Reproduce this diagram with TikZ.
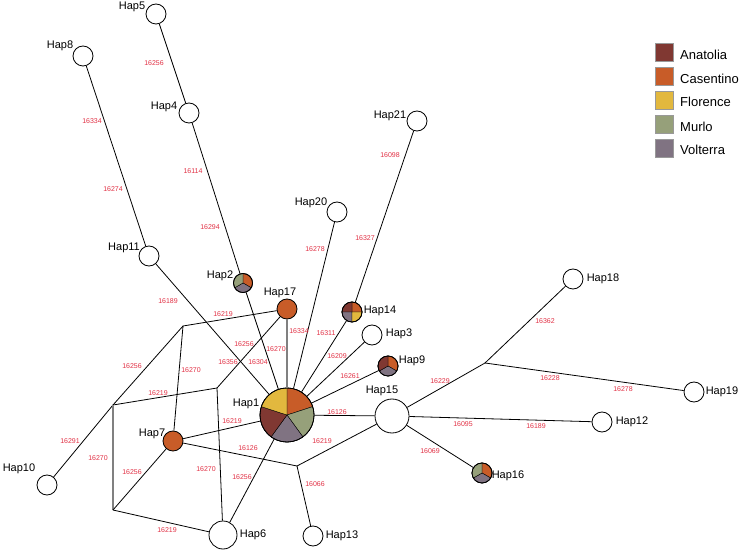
\documentclass[tikz,border=0pt]{standalone}
\usepackage{fontspec}
\setmainfont{Liberation Sans}
\definecolor{Anatolia}{RGB}{128,56,50}
\definecolor{Casentino}{RGB}{200,92,40}
\definecolor{Florence}{RGB}{226,184,62}
\definecolor{Murlo}{RGB}{150,160,122}
\definecolor{Volterra}{RGB}{128,115,130}
\definecolor{mutred}{RGB}{226,50,70}
\newcommand\myslice[5]{\filldraw[fill=#5,slicestyle] (#1.center) -- ++(#3:#2) arc[start angle=#3,end angle=#4,radius=#2] -- cycle;}
\begin{document}
\begin{tikzpicture}[x=1pt,y=-1pt,
 hap/.style={circle,draw=black,line width=0.8pt,inner sep=0pt,minimum size=20pt,fill=white},
 piehap/.style={circle,draw=black,line width=0.8pt,inner sep=0pt,minimum size=20pt},
 lbl/.style={font=\fontsize{11}{13}\selectfont,inner sep=0pt},
 mut/.style={font=\fontsize{7}{8}\selectfont,text=mutred,inner sep=0pt},
 link/.style={draw=black,line width=0.8pt},
 glink/.style={draw=gray,line width=1.6pt},
 slicestyle/.style={draw=black,line width=0.4pt},
 legbox/.style={draw=black!40,line width=0.3pt,minimum size=18pt,inner sep=0pt},
 legtxt/.style={font=\fontsize{13}{15}\selectfont,inner sep=0pt,anchor=west}]
\useasboundingbox[fill=white] (0,0) rectangle (750,553);

% junction points
\coordinate (A) at (183,326);
\coordinate (B) at (113,405);
\coordinate (C) at (217,388);
\coordinate (D) at (113,510);
\coordinate (E) at (297,466);
\coordinate (J) at (485,363);

% haplotype nodes
\node[hap] (Hap5) at (156,14) {};
\node[hap] (Hap8) at (83,56) {};
\node[hap] (Hap4) at (189,113) {};
\node[hap] (Hap11) at (149,256) {};
\node[piehap,minimum size=19pt] (Hap2) at (243,283) {};
\node[hap,fill=Casentino] (Hap17) at (287,309) {};
\node[hap] (Hap20) at (337,212) {};
\node[hap] (Hap21) at (417,121) {};
\node[piehap] (Hap14) at (352,312) {};
\node[hap] (Hap3) at (372,335) {};
\node[piehap] (Hap9) at (388,366) {};
\node[hap,minimum size=34pt] (Hap15) at (392,416) {};
\node[piehap,minimum size=54pt] (Hap1) at (287,415) {};
\node[hap,fill=Casentino] (Hap7) at (173,441) {};
\node[hap] (Hap10) at (47,485) {};
\node[hap,minimum size=28pt] (Hap6) at (223,535) {};
\node[hap] (Hap13) at (313,536) {};
\node[piehap] (Hap16) at (482,473) {};
\node[hap] (Hap18) at (573,279) {};
\node[hap] (Hap19) at (694,392) {};
\node[hap] (Hap12) at (602,422) {};

% pie slices
\myslice{Hap1}{27pt}{18}{90}{Casentino}
\myslice{Hap1}{27pt}{-54}{18}{Murlo}
\myslice{Hap1}{27pt}{-126}{-54}{Volterra}
\myslice{Hap1}{27pt}{162}{234}{Anatolia}
\myslice{Hap1}{27pt}{90}{162}{Florence}
\draw[line width=0.8pt] (Hap1.center) circle[radius=27pt];
\myslice{Hap2}{9.5pt}{-30}{90}{Casentino}
\myslice{Hap2}{9.5pt}{210}{330}{Volterra}
\myslice{Hap2}{9.5pt}{90}{210}{Murlo}
\draw[line width=0.8pt] (Hap2.center) circle[radius=9.5pt];
\myslice{Hap14}{10pt}{0}{90}{Casentino}
\myslice{Hap14}{10pt}{90}{180}{Anatolia}
\myslice{Hap14}{10pt}{180}{270}{Volterra}
\myslice{Hap14}{10pt}{270}{360}{Florence}
\draw[line width=0.8pt] (Hap14.center) circle[radius=10pt];
\myslice{Hap9}{10pt}{-30}{90}{Casentino}
\myslice{Hap9}{10pt}{210}{330}{Volterra}
\myslice{Hap9}{10pt}{90}{210}{Anatolia}
\draw[line width=0.8pt] (Hap9.center) circle[radius=10pt];
\myslice{Hap16}{10pt}{-30}{90}{Casentino}
\myslice{Hap16}{10pt}{210}{330}{Volterra}
\myslice{Hap16}{10pt}{90}{210}{Murlo}
\draw[line width=0.8pt] (Hap16.center) circle[radius=10pt];

% connectors
\draw[link] (Hap5) -- (Hap4);
\draw[link] (Hap4) -- (Hap2);
\draw[link] (Hap2) -- (Hap1);
\draw[link] (Hap8) -- (Hap11);
\draw[link] (Hap11) -- (Hap1);
\draw[glink] (Hap17) -- (Hap1);
\draw[link] (Hap17) -- (A);
\draw[link] (Hap17) -- (C);
\draw[link] (Hap20) -- (Hap1);
\draw[link] (Hap21) -- (Hap14);
\draw[link] (Hap14) -- (Hap1);
\draw[link] (Hap3) -- (Hap1);
\draw[link] (Hap9) -- (Hap1);
\draw[link] (Hap1) -- (Hap15);
\draw[link] (Hap7) -- (Hap1);
\draw[link] (Hap1) -- (Hap6);
\draw[link] (A) -- (B);
\draw[link] (A) -- (Hap7);
\draw[link] (B) -- (C);
\draw[link] (C) -- (Hap6);
\draw[link] (B) -- (Hap10);
\draw[glink] (B) -- (D);
\draw[link] (D) -- (Hap7);
\draw[link] (D) -- (Hap6);
\draw[link] (Hap7) -- (E);
\draw[link] (E) -- (Hap15);
\draw[link] (E) -- (Hap13);
\draw[link] (Hap15) -- (J);
\draw[link] (J) -- (Hap18);
\draw[link] (J) -- (Hap19);
\draw[link] (Hap15) -- (Hap12);
\draw[link] (Hap15) -- (Hap16);

% haplotype labels
\node[lbl] (t5) at (132,7) {Hap5};
\node[lbl] (t8) at (60,46) {Hap8};
\node[lbl] (t4) at (164,107) {Hap4};
\node[lbl] (t11) at (124,248) {Hap11};
\node[lbl] (t2) at (220,276) {Hap2};
\node[lbl] (t17) at (280,293) {Hap17};
\node[lbl] (t20) at (311,203) {Hap20};
\node[lbl] (t21) at (390,116) {Hap21};
\node[lbl] (t14) at (380,311) {Hap14};
\node[lbl] (t3) at (399,334) {Hap3};
\node[lbl] (t9) at (412,361) {Hap9};
\node[lbl] (t15) at (382,391) {Hap15};
\node[lbl] (t1) at (246,404) {Hap1};
\node[lbl] (t7) at (152,434) {Hap7};
\node[lbl] (t10) at (19,469) {Hap10};
\node[lbl] (t6) at (253,535) {Hap6};
\node[lbl] (t13) at (342,536) {Hap13};
\node[lbl] (t16) at (508,476) {Hap16};
\node[lbl] (t18) at (603,279) {Hap18};
\node[lbl] (t19) at (722,392) {Hap19};
\node[lbl] (t12) at (632,422) {Hap12};

% mutation labels
\node[mut] (m1) at (154,63) {16256};
\node[mut] (m2) at (193,171) {16114};
\node[mut] (m3) at (210,227) {16294};
\node[mut] (m4) at (92,121) {16334};
\node[mut] (m5) at (113,189) {16274};
\node[mut] (m6) at (168,301) {16189};
\node[mut] (m7) at (276,349) {16270};
\node[mut] (m8) at (299,331) {16334};
\node[mut] (m9) at (223,314) {16219};
\node[mut] (m10) at (244,344) {16256};
\node[mut] (m11) at (228,362) {16356};
\node[mut] (m12) at (258,362) {16304};
\node[mut] (m13) at (315,249) {16278};
\node[mut] (m14) at (390,155) {16098};
\node[mut] (m15) at (365,238) {16327};
\node[mut] (m16) at (326,333) {16311};
\node[mut] (m17) at (337,356) {16209};
\node[mut] (m18) at (350,376) {16261};
\node[mut] (m19) at (337,412) {16126};
\node[mut] (m20) at (132,366) {16256};
\node[mut] (m21) at (191,370) {16270};
\node[mut] (m22) at (158,393) {16219};
\node[mut] (m23) at (206,469) {16270};
\node[mut] (m24) at (70,441) {16291};
\node[mut] (m25) at (98,458) {16270};
\node[mut] (m26) at (132,472) {16256};
\node[mut] (m27) at (167,530) {16219};
\node[mut] (m28) at (232,421) {16219};
\node[mut] (m29) at (248,448) {16126};
\node[mut] (m30) at (322,441) {16219};
\node[mut] (m31) at (315,484) {16066};
\node[mut] (m32) at (242,477) {16256};
\node[mut] (m33) at (440,381) {16229};
\node[mut] (m34) at (545,321) {16362};
\node[mut] (m35) at (550,378) {16228};
\node[mut] (m36) at (623,389) {16278};
\node[mut] (m37) at (463,424) {16095};
\node[mut] (m38) at (536,426) {16189};
\node[mut] (m39) at (430,451) {16069};

% legend
\node[legbox,fill=Anatolia] (k1) at (664,52) {};
\node[legbox,fill=Casentino] (k2) at (664,76) {};
\node[legbox,fill=Florence] (k3) at (664,100) {};
\node[legbox,fill=Murlo] (k4) at (664,124) {};
\node[legbox,fill=Volterra] (k5) at (664,148) {};
\node[legtxt] (g1) at (680,55) {Anatolia};
\node[legtxt] (g2) at (680,79) {Casentino};
\node[legtxt] (g3) at (680,102) {Florence};
\node[legtxt] (g4) at (680,127) {Murlo};
\node[legtxt] (g5) at (680,150) {Volterra};
\end{tikzpicture}
\end{document}
